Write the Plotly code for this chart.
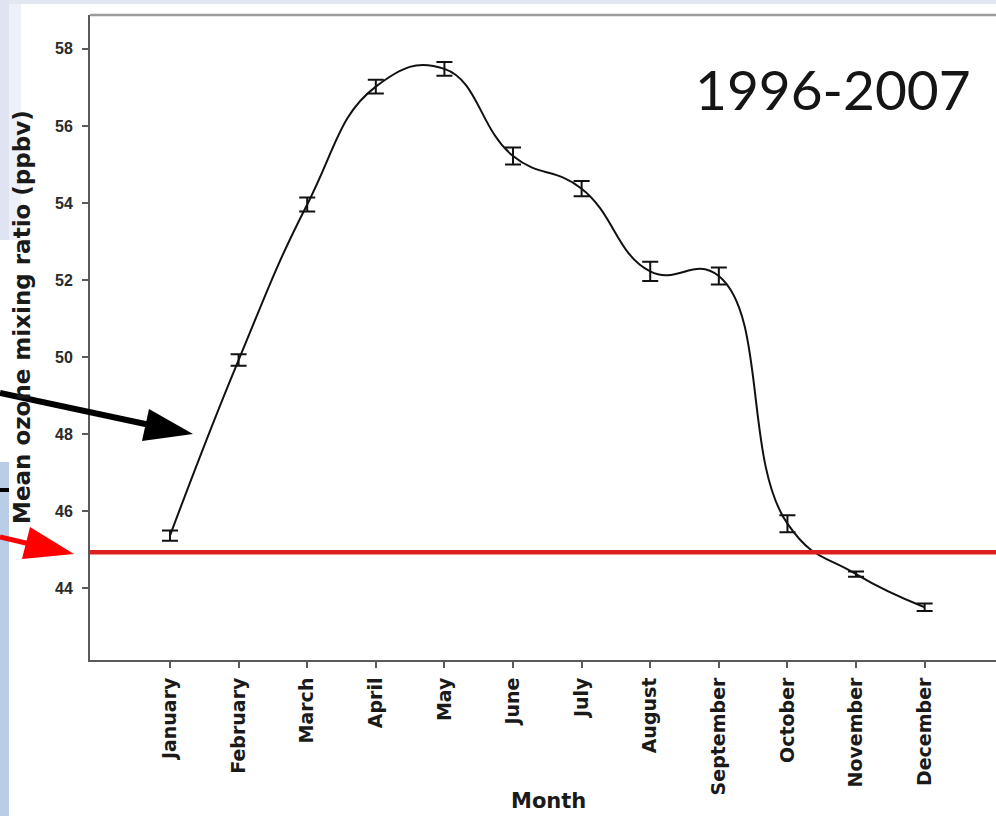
import plotly.graph_objects as go

# ---------------- data ----------------
months = ["January", "February", "March", "April", "May", "June",
          "July", "August", "September", "October", "November", "December"]
ozone_mean = [45.36, 49.92, 53.96, 57.02, 57.48, 55.22,
              54.37, 52.22, 52.10, 45.67, 44.36, 43.50]
ozone_err = [0.13, 0.15, 0.18, 0.18, 0.18, 0.22,
             0.20, 0.25, 0.22, 0.22, 0.07, 0.10]
reference_level = 44.93
y_ticks = [44, 46, 48, 50, 52, 54, 56, 58]
period_label = "1996-2007"

# ---------------- geometry helpers (page pixels -> paper) ----------------
W, H = 996, 816
L, R, T, B = 90, 996, 15, 660


def px(x):
    return (x - L) / (R - L)


def py(y):
    return (B - y) / (B - T)


fig = go.Figure()

fig.add_trace(go.Scatter(
    x=months, y=ozone_mean,
    mode="lines",
    line=dict(color="#111111", width=2, shape="spline", smoothing=1.3),
    error_y=dict(type="data", array=ozone_err, visible=True,
                 color="#111111", thickness=2, width=8),
    showlegend=False, hoverinfo="skip",
))

shapes = []
# slide background pieces
shapes.append(dict(type="rect", xref="paper", yref="paper",
                   x0=px(0), x1=px(W), y0=py(4), y1=py(0),
                   fillcolor="#e3e7f3", line_width=0, layer="below"))
shapes.append(dict(type="rect", xref="paper", yref="paper",
                   x0=px(0), x1=px(9), y0=py(240), y1=py(0),
                   fillcolor="#dfe3f2", line_width=0, layer="below"))
shapes.append(dict(type="rect", xref="paper", yref="paper",
                   x0=px(9), x1=px(21), y0=py(240), y1=py(4),
                   fillcolor="#edf0f8", line_width=0, layer="below"))
shapes.append(dict(type="rect", xref="paper", yref="paper",
                   x0=px(0), x1=px(9), y0=py(H), y1=py(462),
                   fillcolor="#b9cde6", line_width=0, layer="below"))
shapes.append(dict(type="line", xref="paper", yref="paper",
                   x0=px(0), x1=px(9), y0=py(490), y1=py(490),
                   line=dict(color="#000000", width=4)))
# top frame line of the chart image
shapes.append(dict(type="line", xref="paper", yref="paper",
                   x0=0, x1=1, y0=1, y1=1,
                   line=dict(color="#9a9a9a", width=2.5)))
# red reference level
shapes.append(dict(type="line", xref="paper", yref="y",
                   x0=0, x1=1, y0=reference_level, y1=reference_level,
                   line=dict(color="#de1f1f", width=4.5)))
# black arrow
shapes.append(dict(type="line", xref="paper", yref="paper",
                   x0=px(0), y0=py(393), x1=px(150), y1=py(425),
                   line=dict(color="#000000", width=6)))
shapes.append(dict(type="path", xref="paper", yref="paper",
                   path="M {:.5f} {:.5f} L {:.5f} {:.5f} L {:.5f} {:.5f} Z".format(
                       px(193), py(434), px(149), py(409), px(142), py(441)),
                   fillcolor="#000000", line_width=0))
# red arrow
shapes.append(dict(type="line", xref="paper", yref="paper",
                   x0=px(0), y0=py(537), x1=px(30), y1=py(544),
                   line=dict(color="#ff0000", width=5)))
shapes.append(dict(type="path", xref="paper", yref="paper",
                   path="M {:.5f} {:.5f} L {:.5f} {:.5f} L {:.5f} {:.5f} Z".format(
                       px(74), py(554), px(30), py(527), px(22), py(559)),
                   fillcolor="#ff0000", line_width=0))

annotations = [
    dict(text=period_label, xref="paper", yref="paper",
         x=px(833), y=py(89), showarrow=False, xanchor="center", yanchor="middle",
         font=dict(family="Lato", size=55, color="#151515")),
    dict(text="Mean ozone mixing ratio (ppbv)", xref="paper", yref="paper",
         x=px(22), y=py(317), showarrow=False, textangle=-90,
         xanchor="center", yanchor="middle",
         font=dict(family="DejaVu Sans", size=23, color="#1a1a1a", weight="bold")),
    dict(text="Month", xref="paper", yref="paper",
         x=px(548), y=py(801), showarrow=False,
         xanchor="center", yanchor="middle",
         font=dict(family="DejaVu Sans", size=21, color="#1a1a1a", weight="bold")),
]

fig.update_layout(
    width=W, height=H,
    margin=dict(l=L, r=W - R, t=T, b=H - B, pad=0),
    paper_bgcolor="#ffffff", plot_bgcolor="#ffffff",
    shapes=shapes, annotations=annotations,
    showlegend=False,
    xaxis=dict(
        type="category", range=[-1.166, 12.04],
        tickangle=-90, showgrid=False, zeroline=False,
        showline=True, linecolor="#5a5a5a", linewidth=2,
        ticks="outside", ticklen=6, tickwidth=1.5, tickcolor="#5a5a5a",
        tickfont=dict(family="DejaVu Sans", size=19, color="#1a1a1a", weight="bold"),
        ticklabelstandoff=2,
        automargin=False,
    ),
    yaxis=dict(
        range=[42.13, 58.88], tickvals=y_ticks,
        showgrid=False, zeroline=False,
        showline=True, linecolor="#5a5a5a", linewidth=2,
        ticks="outside", ticklen=6, tickwidth=1.5, tickcolor="#5a5a5a",
        tickfont=dict(family="Liberation Sans", size=16, color="#2a2a2a", weight="bold"),
        ticklabelstandoff=6,
        automargin=False,
    ),
)

fig.write_html(
    "out.html",
    config={"displayModeBar": False},
    post_script="document.body.style.margin='0';document.body.style.padding='0';"
                "document.body.style.overflow='hidden';",
)
